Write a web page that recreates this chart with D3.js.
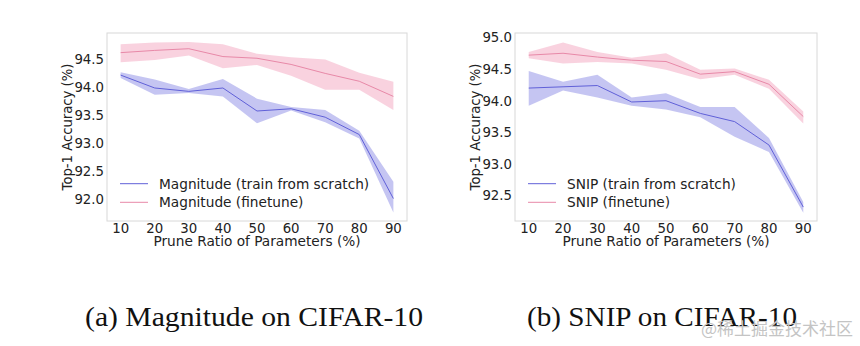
<!DOCTYPE html>
<html lang="en">
<head>
<meta charset="UTF-8" />
<script src="https://d3js.org/d3.v7.min.js"></script>
<style>
  body { margin: 0; background: #fff; }
</style>
</head>
<body>
<script>
// prune ratios (%)
var ratios = [10, 20, 30, 40, 50, 60, 70, 80, 90];

// (a) Magnitude
var magScratch   = [94.21, 93.98, 93.92, 93.98, 93.57, 93.61, 93.46, 93.15, 92.01];
var magScratchLo = [94.16, 93.86, 93.89, 93.83, 93.35, 93.58, 93.37, 93.08, 91.76];
var magScratchHi = [94.26, 94.13, 93.96, 94.14, 93.79, 93.64, 93.59, 93.22, 92.31];
var magFine      = [94.61, 94.65, 94.68, 94.54, 94.51, 94.40, 94.24, 94.10, 93.83];
var magFineLo    = [94.44, 94.48, 94.56, 94.33, 94.39, 94.20, 93.95, 93.95, 93.59];
var magFineHi    = [94.76, 94.79, 94.80, 94.76, 94.59, 94.53, 94.49, 94.25, 94.09];

// (b) SNIP
var snipScratch   = [94.20, 94.22, 94.24, 93.98, 94.00, 93.80, 93.67, 93.30, 92.32];
var snipScratchLo = [93.92, 94.16, 94.05, 93.92, 93.86, 93.74, 93.43, 93.19, 92.23];
var snipScratchHi = [94.47, 94.30, 94.41, 94.05, 94.12, 93.90, 93.90, 93.41, 92.40];
var snipFine      = [94.72, 94.75, 94.69, 94.64, 94.62, 94.42, 94.46, 94.26, 93.75];
var snipFineLo    = [94.67, 94.59, 94.61, 94.59, 94.49, 94.34, 94.41, 94.19, 93.64];
var snipFineHi    = [94.77, 94.92, 94.77, 94.68, 94.75, 94.49, 94.51, 94.33, 93.83];

var magTicks  = [92.0, 92.5, 93.0, 93.5, 94.0, 94.5];
var snipTicks = [92.5, 93.0, 93.5, 94.0, 94.5, 95.0];

var w = 860;
var h = 346;

var blue = "#6060d8";
var pink = "#e889a8";
var sans = "font-family: 'DejaVu Sans', sans-serif";

var svg = d3.select("body")
  .append("svg")
  .attr("width", w)
  .attr("height", h);

svg.append("rect").attr("width", w).attr("height", h).attr("fill", "#fff");

function drawPanel(p) {
  var x = d3.scaleLinear().domain([6, 94]).range([p.left, p.right]);
  var y = d3.scaleLinear().domain(p.yDomain).range([p.bottom, p.top]);
  var g = svg.append("g").attr("style", sans);

  var series = [
    { mean: p.fine, lo: p.fineLo, hi: p.fineHi, color: pink, fill: "#f4a6c0" },
    { mean: p.scratch, lo: p.scratchLo, hi: p.scratchHi, color: blue, fill: "#8c8ce6" }
  ];

  var area = d3.area()
    .x(function (d, i) { return x(ratios[i]); })
    .y0(function (d) { return y(d[0]); })
    .y1(function (d) { return y(d[1]); });

  var line = d3.line()
    .x(function (d, i) { return x(ratios[i]); })
    .y(function (d) { return y(d); });

  series.forEach(function (s) {
    g.append("path")
      .datum(s.lo.map(function (v, i) { return [v, s.hi[i]]; }))
      .attr("d", area)
      .attr("fill", s.fill)
      .attr("fill-opacity", 0.5);
  });
  series.forEach(function (s) {
    g.append("path")
      .datum(s.mean)
      .attr("d", line)
      .attr("fill", "none")
      .attr("stroke", s.color)
      .attr("stroke-width", 1);
  });

  // frame
  g.append("rect")
    .attr("x", p.left).attr("y", p.top)
    .attr("width", p.right - p.left).attr("height", p.bottom - p.top)
    .attr("fill", "none").attr("stroke", "#d8d8d8").attr("stroke-width", 1);

  // ticks
  g.selectAll(".yt").data(p.yTicks).enter().append("text")
    .attr("x", p.left - 3)
    .attr("y", function (d) { return y(d) + 4.8; })
    .attr("text-anchor", "end")
    .attr("font-size", "13.3px")
    .attr("fill", "#222")
    .text(d3.format(".1f"));

  g.selectAll(".xt").data(ratios).enter().append("text")
    .attr("x", function (d) { return x(d); })
    .attr("y", p.bottom + 12)
    .attr("text-anchor", "middle")
    .attr("font-size", "13.3px")
    .attr("fill", "#222")
    .text(function (d) { return d; });

  g.append("text")
    .attr("x", (p.left + p.right) / 2)
    .attr("y", p.bottom + 25)
    .attr("text-anchor", "middle")
    .attr("font-size", "13.7px")
    .attr("fill", "#222")
    .text("Prune Ratio of Parameters (%)");

  g.append("text")
    .attr("transform", "translate(" + (p.left - 35) + "," + ((p.top + p.bottom) / 2) + ") rotate(-90)")
    .attr("text-anchor", "middle")
    .attr("font-size", "13.2px")
    .attr("fill", "#222")
    .text("Top-1 Accuracy (%)");

  // legend
  var legend = [
    { label: p.name + " (train from scratch)", color: blue },
    { label: p.name + " (finetune)", color: pink }
  ];
  legend.forEach(function (l, i) {
    var ly = p.bottom - 37.3 + i * 18.6;
    g.append("line")
      .attr("x1", p.left + 13).attr("x2", p.left + 41)
      .attr("y1", ly).attr("y2", ly)
      .attr("stroke", l.color).attr("stroke-width", 1);
    g.append("text")
      .attr("x", p.left + 52)
      .attr("y", ly + 4.8)
      .attr("font-size", "13.7px")
      .attr("fill", "#222")
      .text(l.label);
  });

  // caption
  svg.append("text")
    .attr("x", p.capX)
    .attr("y", 326)
    .attr("style", "font-family: 'Liberation Serif', serif")
    .attr("font-size", "27px")
    .attr("fill", "#111")
    .attr("textLength", p.capW)
    .attr("lengthAdjust", "spacingAndGlyphs")
    .text(p.caption);
}

drawPanel({
  name: "Magnitude",
  left: 107, right: 407, top: 33, bottom: 221,
  yDomain: [91.61, 94.96], yTicks: magTicks,
  scratch: magScratch, scratchLo: magScratchLo, scratchHi: magScratchHi,
  fine: magFine, fineLo: magFineLo, fineHi: magFineHi,
  caption: "(a) Magnitude on CIFAR-10", capX: 85, capW: 338
});

drawPanel({
  name: "SNIP",
  left: 515, right: 817, top: 33, bottom: 221,
  yDomain: [92.10, 95.07], yTicks: snipTicks,
  scratch: snipScratch, scratchLo: snipScratchLo, scratchHi: snipScratchHi,
  fine: snipFine, fineLo: snipFineLo, fineHi: snipFineHi,
  caption: "(b) SNIP on CIFAR-10", capX: 527, capW: 270
});

// watermark
svg.append("text")
  .attr("x", 853)
  .attr("y", 335)
  .attr("text-anchor", "end")
  .attr("style", "font-family: 'Noto Sans CJK SC', sans-serif")
  .attr("font-size", "17px")
  .attr("fill", "#c4c4c4")
  .text("@稀土掘金技术社区");
</script>
</body>
</html>
